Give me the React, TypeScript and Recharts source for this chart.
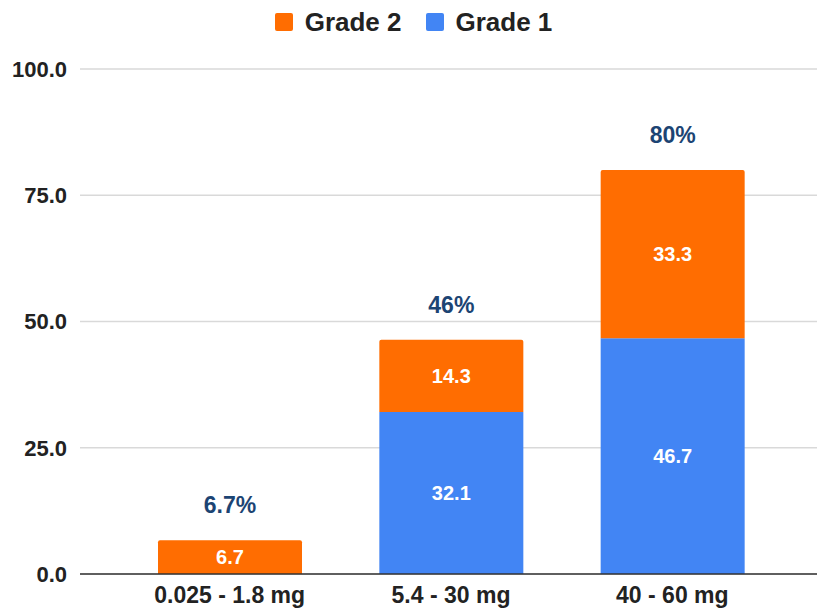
import React from 'react';
import {
  BarChart,
  Bar,
  XAxis,
  YAxis,
  CartesianGrid,
  Legend,
  LabelList,
} from 'recharts';

const doseRanges = ['0.025 - 1.8 mg', '5.4 - 30 mg', '40 - 60 mg'];
const grade1 = [0, 32.1, 46.7];
const grade2 = [6.7, 14.3, 33.3];
const totalLabels = ['6.7%', '46%', '80%'];
const yTicks = [0, 25, 50, 75, 100];

const ORANGE = '#ff6d01';
const BLUE = '#4285f4';
const FONT = '"Liberation Sans", Arial, sans-serif';

const data = doseRanges.map((range, i) => ({
  range,
  grade1: grade1[i],
  grade2: grade2[i],
  total: totalLabels[i],
}));

const legendItems = [
  { name: 'Grade 2', color: ORANGE },
  { name: 'Grade 1', color: BLUE },
];

function ChartLegend() {
  return (
    <div
      style={{
        display: 'flex',
        justifyContent: 'center',
        alignItems: 'center',
        height: 44,
        paddingLeft: 10,
        fontFamily: FONT,
      }}
    >
      {legendItems.map((item, i) => (
        <div
          key={item.name}
          style={{ display: 'flex', alignItems: 'center', marginLeft: i === 0 ? 0 : 24 }}
        >
          <span
            style={{
              width: 18,
              height: 18,
              borderRadius: 2,
              background: item.color,
              marginRight: 12,
              display: 'inline-block',
            }}
          />
          <span style={{ fontSize: 26, fontWeight: 700, color: '#222' }}>{item.name}</span>
        </div>
      ))}
    </div>
  );
}

// value inside a segment, skipped for empty segments
function SegmentLabel(props: any) {
  const { x, y, width, height, value } = props;
  if (!value) return null;
  return (
    <text
      x={x + width / 2}
      y={y + height / 2}
      textAnchor="middle"
      dominantBaseline="central"
      fill="#fff"
      fontFamily={FONT}
      fontSize={20}
      fontWeight={700}
    >
      {Number(value).toFixed(1)}
    </text>
  );
}

// stack total above the top segment
function TotalLabel(props: any) {
  const { x, y, width, index } = props;
  return (
    <text
      x={x + width / 2}
      y={y - 35}
      textAnchor="middle"
      dominantBaseline="central"
      fill="#1c4473"
      fontFamily={FONT}
      fontSize={23}
      fontWeight={700}
    >
      {totalLabels[index]}
    </text>
  );
}

export default function App() {
  return (
    <div style={{ position: 'absolute', left: 0, top: 0, width: 817, height: 609, background: '#fff' }}>
      <BarChart
        width={817}
        height={609}
        data={data}
        margin={{ top: 69, right: 0, bottom: 0, left: 0 }}
      >
        <CartesianGrid horizontal vertical={false} stroke="#d9d9d9" strokeWidth={1.5} />
        <XAxis
          dataKey="range"
          height={35}
          padding={{ left: 39, right: 34 }}
          tickLine={false}
          tickSize={0}
          tickMargin={13}
          axisLine={{ stroke: '#333', strokeWidth: 1.5 }}
          tick={{ fontFamily: FONT, fontSize: 23, fontWeight: 700, fill: '#222' }}
        />
        <YAxis
          width={80}
          domain={[0, 100]}
          ticks={yTicks}
          tickFormatter={(v) => Number(v).toFixed(1)}
          tickLine={false}
          tickSize={0}
          tickMargin={13}
          axisLine={false}
          tick={{ fontFamily: FONT, fontSize: 22, fontWeight: 700, fill: '#222' }}
        />
        <Legend
          verticalAlign="middle"
          layout="horizontal"
          wrapperStyle={{ top: 0, left: 0, width: 817 }}
          content={() => <ChartLegend />}
        />
        <Bar dataKey="grade1" name="Grade 1" stackId="a" fill={BLUE} barSize={144} isAnimationActive={false}>
          <LabelList dataKey="grade1" content={SegmentLabel} />
        </Bar>
        <Bar
          dataKey="grade2"
          name="Grade 2"
          stackId="a"
          fill={ORANGE}
          barSize={144}
          radius={[2, 2, 0, 0]}
          isAnimationActive={false}
        >
          <LabelList dataKey="grade2" content={SegmentLabel} />
          <LabelList dataKey="total" content={TotalLabel} />
        </Bar>
      </BarChart>
    </div>
  );
}
